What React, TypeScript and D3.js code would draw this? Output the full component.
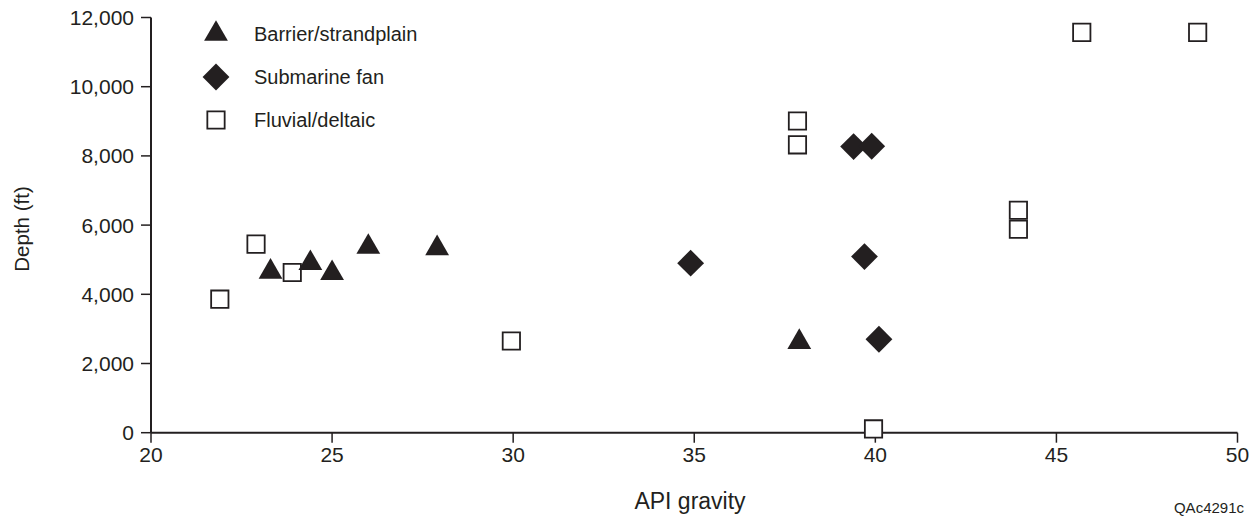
import React from "react";
import * as d3 from "d3";

// API gravity vs. reservoir depth, grouped by depositional system
const barrierApi = [23.3, 24.4, 25.0, 26.0, 27.9, 37.9];
const barrierDepth = [4650, 4900, 4610, 5370, 5330, 2620];

const fanApi = [34.9, 39.4, 39.9, 39.7, 40.1];
const fanDepth = [4900, 8270, 8280, 5090, 2700];

const fluvialApi = [21.9, 22.9, 23.9, 29.95, 37.85, 37.85, 39.95, 43.95, 43.95, 45.7, 48.9];
const fluvialDepth = [3860, 5450, 4630, 2650, 9010, 8320, 110, 6430, 5880, 11570, 11570];

const xTicks = [20, 25, 30, 35, 40, 45, 50];
const yTicks = [0, 2000, 4000, 6000, 8000, 10000, 12000];

const seriesNames = ["Barrier/strandplain", "Submarine fan", "Fluvial/deltaic"];

const W = 1255;
const H = 531;
const INK = "#231f20";
const FONT = "'Liberation Sans', Arial, Helvetica, sans-serif";

const x = d3.scaleLinear().domain([20, 50]).range([151, 1237.5]);
const y = d3.scaleLinear().domain([0, 12000]).range([432.7, 17.5]);

const triPath = d3.symbol(d3.symbolTriangle, 245)() as string;
const diaPath = d3.symbol(d3.symbolSquare, 360)() as string;
const sqPath = d3.symbol(d3.symbolSquare, 300)() as string;

function Triangle({ cx, cy }: { cx: number; cy: number }) {
  return <path d={triPath} transform={`translate(${cx},${cy})`} fill={INK} />;
}
function Diamond({ cx, cy }: { cx: number; cy: number }) {
  return <path d={diaPath} transform={`translate(${cx},${cy}) rotate(45)`} fill={INK} />;
}
function Square({ cx, cy }: { cx: number; cy: number }) {
  return (
    <path d={sqPath} transform={`translate(${cx},${cy})`} fill="#fff" stroke={INK} strokeWidth={1.8} />
  );
}

export default function App() {
  const fmt = d3.format(",");
  const [x0, x1] = x.range();
  const [yb, yt] = y.range();
  return (
    <svg
      width={W}
      height={H}
      style={{ position: "absolute", left: 0, top: 0, background: "#fff" }}
      fontFamily={FONT}
    >
      {/* axes */}
      <line x1={x0} x2={x0} y1={yt} y2={yb} stroke={INK} strokeWidth={2} />
      <line x1={x0} x2={x1} y1={yb} y2={yb} stroke={INK} strokeWidth={2} />
      {yTicks.map((t) => (
        <g key={`y${t}`}>
          <line x1={x0 - 10} x2={x0} y1={y(t)} y2={y(t)} stroke={INK} strokeWidth={1.5} />
          <text x={x0 - 17} y={y(t)} dy="0.36em" textAnchor="end" fontSize={21} fill={INK}>
            {fmt(t)}
          </text>
        </g>
      ))}
      {xTicks.map((t) => (
        <g key={`x${t}`}>
          <line x1={x(t)} x2={x(t)} y1={yb} y2={yb + 10} stroke={INK} strokeWidth={1.5} />
          <text x={x(t)} y={yb + 29} textAnchor="middle" fontSize={21} fill={INK}>
            {t}
          </text>
        </g>
      ))}
      <text x={690} y={509} textAnchor="middle" fontSize={23} fill={INK}>
        API gravity
      </text>
      <text
        transform={`translate(29,229) rotate(-90)`}
        textAnchor="middle"
        fontSize={20.5}
        fill={INK}
      >
        Depth (ft)
      </text>
      <text x={1244} y={513} textAnchor="end" fontSize={15} fill={INK}>
        QAc4291c
      </text>

      {/* data */}
      {fluvialApi.map((a, i) => (
        <Square key={`f${i}`} cx={x(a)} cy={y(fluvialDepth[i])} />
      ))}
      {barrierApi.map((a, i) => (
        <Triangle key={`b${i}`} cx={x(a)} cy={y(barrierDepth[i])} />
      ))}
      {fanApi.map((a, i) => (
        <Diamond key={`s${i}`} cx={x(a)} cy={y(fanDepth[i])} />
      ))}

      {/* legend */}
      <Triangle cx={216} cy={34} />
      <Diamond cx={216} cy={77} />
      <Square cx={216} cy={120} />
      {seriesNames.map((n, i) => (
        <text key={n} x={254} y={34 + i * 43} dy="0.36em" fontSize={20} fill={INK}>
          {n}
        </text>
      ))}
    </svg>
  );
}
